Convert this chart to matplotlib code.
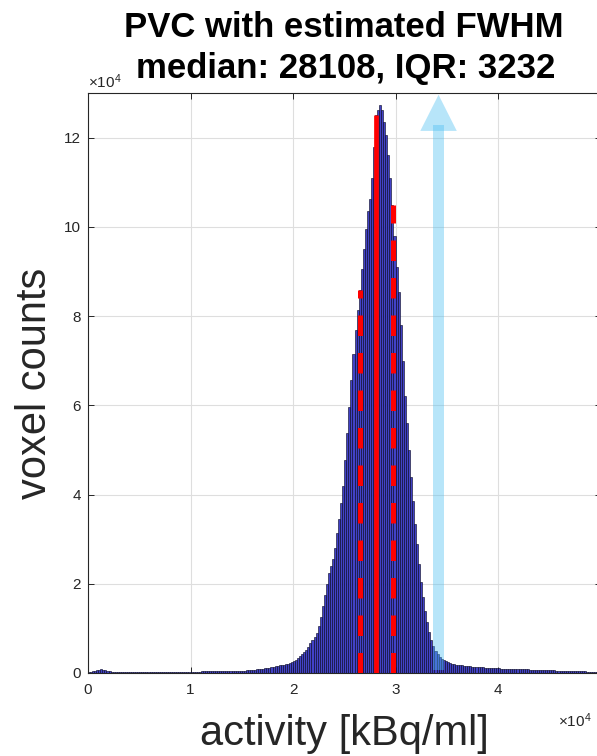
import numpy as np
import matplotlib
matplotlib.use('Agg')
import matplotlib.pyplot as plt
from matplotlib.patches import Rectangle, Polygon

plt.rcParams['font.family'] = ['Liberation Sans', 'DejaVu Sans']
plt.rcParams['mathtext.default'] = 'regular'

# histogram: bins of 200 kBq/ml from 0 to 50000, counts in thousands
bin_width = 200
counts_k = [
    0.2, 0.3, 0.4, 0.5, 0.6, 0.7, 0.8, 0.7, 0.6, 0.5, 0.4, 0.3, 0.3, 0.2, 0.2,
    0.2, 0.2, 0.2, 0.2, 0.2, 0.2, 0.2, 0.2, 0.2, 0.2,
    0.2, 0.2, 0.2, 0.2, 0.2, 0.2, 0.2, 0.2, 0.2, 0.2, 0.3, 0.3, 0.3, 0.3, 0.3,
    0.3, 0.3, 0.3, 0.3, 0.3, 0.3, 0.3, 0.3, 0.3, 0.3,
    0.3, 0.3, 0.3, 0.3, 0.3, 0.4, 0.4, 0.4, 0.4, 0.4, 0.4, 0.4, 0.4, 0.4, 0.4,
    0.5, 0.5, 0.5, 0.5, 0.5, 0.5, 0.5, 0.5, 0.5, 0.5,
    0.5, 0.5, 0.6, 0.6, 0.6, 0.7, 0.7, 0.8, 0.8, 0.9, 1.0, 1.1, 1.1, 1.2, 1.3,
    1.4, 1.5, 1.6, 1.7, 1.8, 1.9, 2.0, 2.1, 2.2, 2.4,
    2.6, 3.0, 3.4, 3.9, 4.3, 4.6, 5.2, 5.9, 6.7, 7.5, 8.0, 9.0, 10.5, 12.5, 15.0,
    17.5, 20.0, 22.4, 24.0, 25.5, 28.0, 31.3, 34.5, 38.0, 42.0,
    47.7, 53.7, 59.7, 65.6, 71.6, 76.8, 81.3, 85.8, 90.5, 95.0, 99.5, 103.5, 106.3, 111.0, 118.0,
    125.0, 126.3, 127.2, 126.1, 123.4, 120.5, 116.0, 111.0, 105.0, 98.0,
    91.0, 85.5, 78.0, 70.0, 62.0, 56.0, 50.0, 44.0, 38.5, 33.5, 29.0, 24.5, 20.5, 17.0, 14.0,
    11.5, 9.3, 7.5, 6.0, 5.0, 4.2, 3.6, 3.2, 2.9, 2.6,
    2.4, 2.2, 2.1, 2.0, 1.9, 1.8, 1.7, 1.7, 1.6, 1.6, 1.5, 1.5, 1.4, 1.4, 1.4,
    1.3, 1.3, 1.3, 1.2, 1.2, 1.2, 1.2, 1.1, 1.1, 1.1,
    1.1, 1.0, 1.0, 1.0, 1.0, 0.9, 0.9, 0.9, 0.9, 0.9, 0.8, 0.8, 0.8, 0.8, 0.8,
    0.7, 0.7, 0.7, 0.7, 0.7, 0.7, 0.6, 0.6, 0.6, 0.6,
    0.6, 0.6, 0.6, 0.5, 0.5, 0.5, 0.5, 0.5, 0.5, 0.5, 0.4, 0.4, 0.4, 0.4, 0.4,
    0.4, 0.4, 0.4, 0.3, 0.3, 0.3, 0.3, 0.3, 0.3, 0.3,
]
median_val = 28108
iqr_val = 3232
arrow_x = 34200

counts = np.array(counts_k) * 1000
edges = np.arange(len(counts) + 1) * bin_width

def height_at(x):
    return counts[np.searchsorted(edges, x, side='right') - 1]

fig = plt.figure(figsize=(5.97, 7.56), dpi=100)
ax = fig.add_axes([88 / 597, 83 / 756, 512.5 / 597, 580 / 756])

ax.bar(edges[:-1], counts, width=bin_width, align='edge',
       facecolor=(0.26, 0.26, 0.78), edgecolor=(0.0, 0.0, 0.1), linewidth=0.4, zorder=2)

# median and IQR lines
ax.plot([median_val, median_val], [0, height_at(median_val)], color='red', lw=3.4,
        solid_capstyle='butt', zorder=3)
for xv in (median_val - iqr_val / 2, median_val + iqr_val / 2):
    ax.plot([xv, xv], [0, height_at(xv)], color='red', lw=3.6,
            linestyle=(0, (4.1, 3.4)), dash_capstyle='butt', zorder=3)

# translucent arrow
blue = (0.3, 0.75, 0.95)
ax.add_patch(Rectangle((arrow_x - 565, 700), 1130, 122100, facecolor=blue,
                       edgecolor='none', alpha=0.4, zorder=4))
ax.add_patch(Polygon([[arrow_x - 1780, 121500], [arrow_x + 1780, 121500], [arrow_x, 129600]],
                     closed=True, facecolor=blue, edgecolor='none', alpha=0.4, zorder=4))

ax.set_xlim(0, 50000)
ax.set_ylim(0, 130000)
ax.set_xticks(np.arange(0, 40001, 10000))
ax.set_yticks(np.arange(0, 120001, 20000))
ax.set_xticklabels([f'{v / 1e4:g}' for v in ax.get_xticks()])
ax.set_yticklabels([f'{v / 1e4:g}' for v in ax.get_yticks()])

dark = (0.15, 0.15, 0.15)
ax.grid(True, color=(0.87, 0.87, 0.87), linewidth=0.8)
ax.set_axisbelow(True)
ax.tick_params(direction='in', length=4, width=0.7, colors=dark, labelsize=11,
               top=True, right=True)
ax.tick_params(axis='x', pad=7)
ax.tick_params(axis='y', pad=5)
for s in ax.spines.values():
    s.set_color(dark)
    s.set_linewidth(0.8)

fig.text(88 / 597, 1 - 88 / 756, '×10$^{4}$', fontsize=11, color=dark,
         ha='left', va='baseline')
fig.text(558 / 597, 1 - 727 / 756, '×10$^{4}$', fontsize=11, color=dark,
         ha='left', va='baseline')

fig.text(344 / 597, 1 - 37 / 756, 'PVC with estimated FWHM', fontsize=25,
         fontweight='bold', ha='center', va='baseline')
fig.text(346 / 597, 1 - 78 / 756, f'median: {median_val}, IQR: {iqr_val}', fontsize=25,
         fontweight='bold', ha='center', va='baseline')

fig.text(344 / 597, 1 - 745 / 756, 'activity [kBq/ml]', fontsize=30, color=dark,
         ha='center', va='baseline')
fig.text(35 / 597, 1 - 383 / 756, 'voxel counts', fontsize=30, color=dark,
         rotation=90, ha='center', va='center')

fig.savefig('out.png', dpi=100)
